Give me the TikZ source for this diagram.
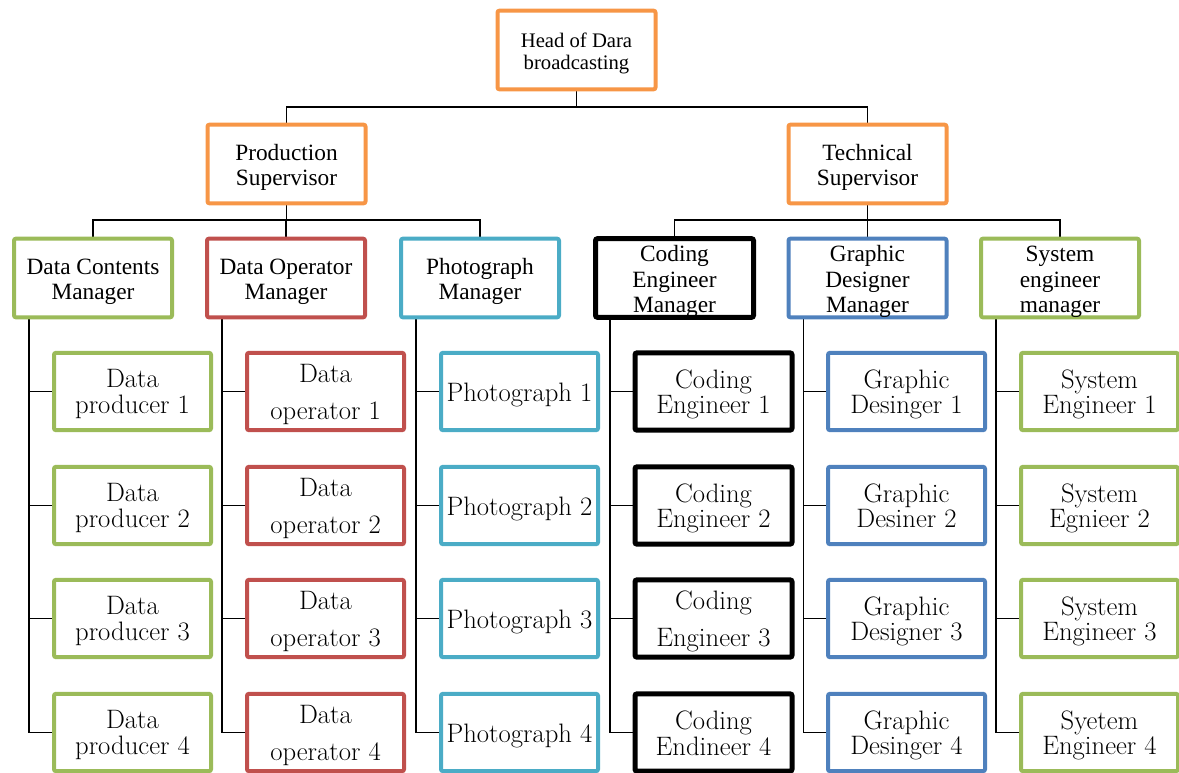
\documentclass[tikz,border=0pt]{standalone}
\usepackage{fontspec}
\newfontfamily\headfont{Liberation Serif}
\usetikzlibrary{calc,backgrounds}
\definecolor{boxorange}{HTML}{F79646}
\definecolor{boxgreen}{HTML}{9BBB59}
\definecolor{boxred}{HTML}{C0504D}
\definecolor{boxteal}{HTML}{4BACC6}
\definecolor{boxblue}{HTML}{4F81BD}
% centred lines of a box label, set a little below the box centre
\newcommand\boxtext[1]{\raisebox{-3pt}[\height][\depth]{\begin{tabular}{@{}c@{}}#1\end{tabular}}}
\begin{document}
\begin{tikzpicture}[x=0.75pt,y=-0.75pt,
  box/.style={draw, line width=3pt, fill=white, rounded corners=1.5pt, inner sep=0pt},
  upper/.style={box, minimum width=118.5pt, minimum height=59pt,
    font=\headfont\fontsize{17.5}{19}\selectfont},
  leaf/.style={box, minimum width=117.75pt, minimum height=58pt,
    font=\fontsize{20}{18.75}\selectfont},
  link/.style={line width=1.3pt, black},
  orangebox/.style={draw=boxorange},
  greenbox/.style={draw=boxgreen},
  redbox/.style={draw=boxred},
  tealbox/.style={draw=boxteal},
  bluebox/.style={draw=boxblue},
  blackbox/.style={draw=black, line width=3.75pt}
]
\useasboundingbox (0,0) rectangle (1179,772);

% top of the chart
\node[upper, orangebox, font=\headfont\fontsize{15.5}{16.5}\selectfont] (head) at (576.5,50) {\boxtext{Head of Dara\\broadcasting}};
\node[upper, orangebox] (prod) at (286.5,164) {\boxtext{Production\\Supervisor}};
\node[upper, orangebox] (tech) at (867.5,164) {\boxtext{Technical\\Supervisor}};

% managers
\node[upper, greenbox] (dcm) at (93,278) {\boxtext{Data Contents\\Manager}};
\node[upper, redbox]   (dom) at (286,278) {\boxtext{Data Operator\\Manager}};
\node[upper, tealbox]  (phm) at (480,278) {\boxtext{Photograph\\Manager}};
\node[upper, blackbox] (cem) at (674.5,278) {\boxtext{Coding\\Engineer\\Manager}};
\node[upper, bluebox]  (gdm) at (867.5,278) {\boxtext{Graphic\\Designer\\Manager}};
\node[upper, greenbox] (sem) at (1060,278) {\boxtext{System\\engineer\\manager}};

% staff rows
\def\rowA{391.5}\def\rowB{505.5}\def\rowC{618.5}\def\rowD{732.5}

\node[leaf, greenbox] (dp1) at (132.5,\rowA) {\boxtext{Data\\producer 1}};
\node[leaf, greenbox] (dp2) at (132.5,\rowB) {\boxtext{Data\\producer 2}};
\node[leaf, greenbox] (dp3) at (132.5,\rowC) {\boxtext{Data\\producer 3}};
\node[leaf, greenbox] (dp4) at (132.5,\rowD) {\boxtext{Data\\producer 4}};

\node[leaf, redbox] (do1) at (325.5,\rowA) {\boxtext{Data\\[8.75pt]operator 1}};
\node[leaf, redbox] (do2) at (325.5,\rowB) {\boxtext{Data\\[8.75pt]operator 2}};
\node[leaf, redbox] (do3) at (325.5,\rowC) {\boxtext{Data\\[8.75pt]operator 3}};
\node[leaf, redbox] (do4) at (325.5,\rowD) {\boxtext{Data\\[8.75pt]operator 4}};

\node[leaf, tealbox] (ph1) at (519.5,\rowA) {\boxtext{Photograph 1}};
\node[leaf, tealbox] (ph2) at (519.5,\rowB) {\boxtext{Photograph 2}};
\node[leaf, tealbox] (ph3) at (519.5,\rowC) {\boxtext{Photograph 3}};
\node[leaf, tealbox] (ph4) at (519.5,\rowD) {\boxtext{Photograph 4}};

\node[leaf, blackbox] (ce1) at (713.5,\rowA) {\boxtext{Coding\\Engineer 1}};
\node[leaf, blackbox] (ce2) at (713.5,\rowB) {\boxtext{Coding\\Engineer 2}};
\node[leaf, blackbox] (ce3) at (713.5,\rowC) {\boxtext{Coding\\[8pt]Engineer 3}};
\node[leaf, blackbox] (ce4) at (713.5,\rowD) {\boxtext{Coding\\Endineer 4}};

\node[leaf, bluebox] (gd1) at (906.5,\rowA) {\boxtext{Graphic\\Desinger 1}};
\node[leaf, bluebox] (gd2) at (906.5,\rowB) {\boxtext{Graphic\\Desiner 2}};
\node[leaf, bluebox] (gd3) at (906.5,\rowC) {\boxtext{Graphic\\Designer 3}};
\node[leaf, bluebox] (gd4) at (906.5,\rowD) {\boxtext{Graphic\\Desinger 4}};

\node[leaf, greenbox] (se1) at (1099.5,\rowA) {\boxtext{System\\Engineer 1}};
\node[leaf, greenbox] (se2) at (1099.5,\rowB) {\boxtext{System\\Egnieer 2}};
\node[leaf, greenbox] (se3) at (1099.5,\rowC) {\boxtext{System\\Engineer 3}};
\node[leaf, greenbox] (se4) at (1099.5,\rowD) {\boxtext{Syetem\\Engineer 4}};

% connectors, kept behind the boxes
\begin{pgfonlayer}{background}
  \draw[link] (head.south) -- ++(0,16) coordinate (hj) -| (prod.north);
  \draw[link] (hj) -| (tech.north);

  \draw[link] (prod.south) -- ++(0,15) coordinate (pj) -| (dcm.north);
  \draw[link] (pj) -| (dom.north);
  \draw[link] (pj) -| (phm.north);

  \draw[link] (tech.south) -- ++(0,15) coordinate (tj) -| (cem.north);
  \draw[link] (tj) -| (gdm.north);
  \draw[link] (tj) -| (sem.north);

  \foreach \m/\c in {dcm/dp, dom/do, phm/ph, cem/ce, gdm/gd, sem/se} {
    \coordinate (\m L) at ($(\m.south west)+(17,0)$);
    \foreach \i in {1,2,3,4}
      \draw[link] (\m L) |- (\c\i.west);
  }
\end{pgfonlayer}
\end{tikzpicture}
\end{document}
